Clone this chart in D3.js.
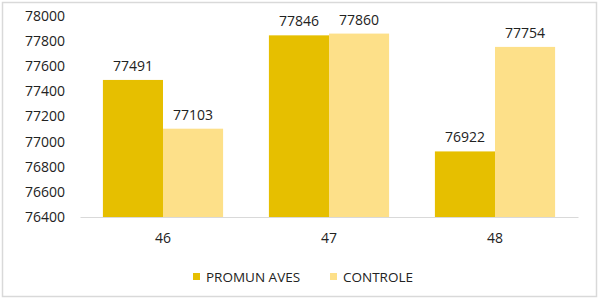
<!DOCTYPE html>
<html>
<head>
<meta charset="utf-8">
<script src="https://cdn.jsdelivr.net/npm/d3@7"></script>
<style>
  body { margin: 0; background: #fff; }
  svg { display: block; font-family: "Open Sans", "Liberation Sans", sans-serif; }
</style>
</head>
<body>
<div class="svg-container"></div>
<script>
// Data
const categories = ['46', '47', '48'];
const seriesNames = ['PROMUN AVES', 'CONTROLE'];
const promunAves = [77491, 77846, 76922];
const controle = [77103, 77860, 77754];
const yTicks = [76400, 76600, 76800, 77000, 77200, 77400, 77600, 77800, 78000];

const colors = ['#E6BF00', '#FDE089'];

const W = 600, H = 300;
const margin = {top: 16, right: 22, bottom: 83, left: 80};
const width = W - margin.left - margin.right;
const height = H - margin.top - margin.bottom;

const svg = d3.select('.svg-container')
  .append('svg')
  .attr('width', W)
  .attr('height', H);

// chart border
svg.append('rect')
  .attr('x', 2.5).attr('y', 2.5)
  .attr('width', W - 6).attr('height', H - 6)
  .attr('fill', '#fff')
  .attr('stroke', '#d9d9d9')
  .attr('stroke-width', 1.5);

const g = svg.append('g')
  .attr('transform', `translate(${margin.left}, ${margin.top})`);

const x = d3.scaleBand()
  .domain(categories)
  .range([0, width])
  .paddingInner(0.276)
  .paddingOuter(0.138);

const x1 = d3.scaleBand()
  .domain(seriesNames)
  .range([0, x.bandwidth()]);

const y = d3.scaleLinear()
  .domain([76400, 78000])
  .range([height, 0]);

const values = [promunAves, controle];

// y axis labels
const yAxis = g.append('g')
  .call(d3.axisLeft(y).tickValues(yTicks).tickSize(0).tickPadding(15).tickFormat(d3.format('d')));
yAxis.select('.domain').remove();
yAxis.selectAll('text')
  .attr('font-size', 14)
  .attr('font-family', '"Open Sans", sans-serif')
  .attr('fill', '#222');

// bars
seriesNames.forEach((s, si) => {
  g.append('g')
    .attr('fill', colors[si])
    .selectAll('rect')
    .data(categories)
    .enter().append('rect')
      .attr('x', (d) => x(d) + x1(s))
      .attr('y', (d, i) => y(values[si][i]))
      .attr('width', x1.bandwidth())
      .attr('height', (d, i) => height - y(values[si][i]));

  g.append('g')
    .selectAll('text')
    .data(categories)
    .enter().append('text')
      .attr('x', (d) => x(d) + x1(s) + x1.bandwidth() / 2)
      .attr('y', (d, i) => y(values[si][i]) - 9)
      .attr('text-anchor', 'middle')
      .attr('font-size', 14)
      .attr('fill', '#222')
      .text((d, i) => values[si][i]);
});

// x axis
const xAxis = g.append('g')
  .attr('transform', `translate(0, ${height})`)
  .call(d3.axisBottom(x).tickSize(0).tickPadding(16));
xAxis.select('.domain').attr('stroke', '#d9d9d9');
xAxis.selectAll('text')
  .attr('font-size', 14)
  .attr('font-family', '"Open Sans", sans-serif')
  .attr('fill', '#222');

// legend
const legendX = [193, 330];
const legend = svg.selectAll('.legend')
  .data(seriesNames)
  .enter().append('g')
    .attr('class', 'legend')
    .attr('transform', (d, i) => `translate(${legendX[i]}, 273)`);

legend.append('rect')
  .attr('width', 7)
  .attr('height', 7)
  .attr('fill', (d, i) => colors[i]);

legend.append('text')
  .attr('x', 13)
  .attr('y', 4)
  .attr('dy', '0.35em')
  .attr('font-size', 13.5)
  .attr('fill', '#222')
  .text(d => d);
</script>
</body>
</html>
